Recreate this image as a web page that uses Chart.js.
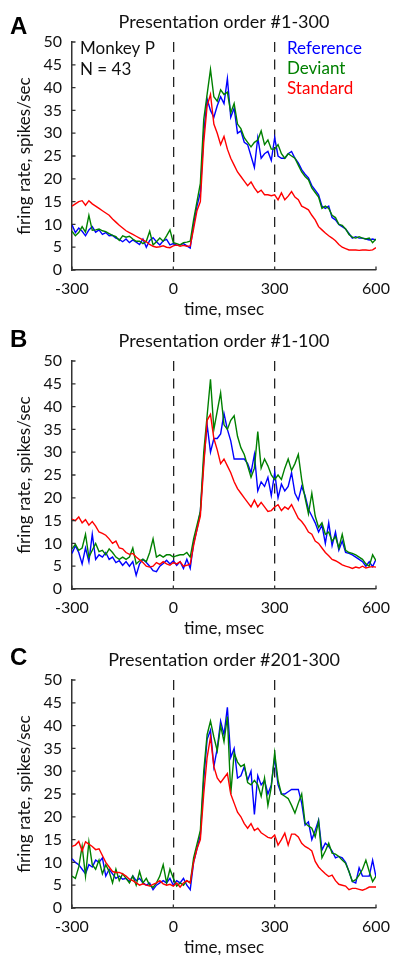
<!DOCTYPE html>
<html>
<head>
<meta charset="utf-8">
<script src="https://cdn.jsdelivr.net/npm/chart.js@4.4.0/dist/chart.umd.min.js"></script>
<style>
  html, body { margin: 0; padding: 0; background: #fff; overflow: hidden; }
  .panel { position: absolute; left: 0; width: 393px; height: 319px; }
</style>
</head>
<body>
<div class="panel" style="top:0px"><canvas id="chartA"></canvas></div>
<div class="panel" style="top:319px"><canvas id="chartB"></canvas></div>
<div class="panel" style="top:638px"><canvas id="chartC"></canvas></div>
<script>
// time bins (msec)
const timeMs = [
  -300, -290, -280, -270, -260, -250, -240, -230, -220, -210,
  -200, -190, -180, -170, -160, -150, -140, -130, -120, -110,
  -100, -90, -80, -70, -60, -50, -40, -30, -20, -10,
  0, 10, 20, 30, 40, 50, 60, 70, 80, 90,
  100, 110, 120, 130, 140, 150, 160, 170, 180, 190,
  200, 210, 220, 230, 240, 250, 260, 270, 280, 290,
  300, 310, 320, 330, 340, 350, 360, 370, 380, 390,
  400, 410, 420, 430, 440, 450, 460, 470, 480, 490,
  500, 510, 520, 530, 540, 550, 560, 570, 580, 590,
  600
];
const xTicks = [-300, 0, 300, 600];
const yTicks = [0, 5, 10, 15, 20, 25, 30, 35, 40, 45, 50];
const seriesNames = ['Reference', 'Deviant', 'Standard'];

// Panel A: presentation order #1-300
const refA = [
  9.9, 8.2, 9.2, 8.5, 7.5, 8.8, 9.5, 8.3, 8.8, 7.8,
  8.2, 7.5, 7.6, 7.0, 6.7, 6.2, 6.8, 6.0, 6.6, 6.1,
  5.6, 6.8, 5.0, 6.5, 7.1, 6.2, 5.5, 6.4, 6.7, 5.5,
  5.8, 5.4, 5.5, 5.8, 5.3, 4.8, 10, 14, 17, 30,
  37.5, 35, 33.5, 36, 38, 36.5, 42, 33.5, 35.5, 30,
  30.5, 28, 27.5, 25, 22.5, 29, 24.5, 25.5, 26, 24,
  29, 25, 24.5, 24.5, 25.5, 26, 24.5, 23.5, 22, 21,
  20.2, 18.5, 17.5, 16.5, 14, 13.5, 14, 11.5, 11, 10,
  9.5, 9, 8, 7, 7.3, 7.0, 7.0, 6.8, 6.6, 6.8,
  6.6
];
const devA = [
  8.5, 7.5, 8.2, 9.5, 8.3, 12.0, 8.7, 8.8, 9.0, 8.6,
  8.4, 8.0, 7.6, 7.3, 6.5, 7.5, 7.2, 7.4, 6.8, 6.3,
  6.3, 5.8, 6.3, 8.5, 5.5, 6.2, 7.0, 6.3, 7.5, 8.8,
  6.0, 5.8, 5.5, 6.0, 6.1, 6.3, 11, 15, 19, 33,
  38.5, 44, 38, 37, 39.5, 38.5, 39, 34.5, 36.5, 32,
  31, 29, 28, 27, 28, 28.5, 30.5, 27.5, 28.5, 26.5,
  26.5, 27.5, 25.5, 24.5, 25.5, 25, 24.5, 23, 21.5, 20.5,
  19.8, 18, 17, 16, 13.5, 14, 13.5, 12, 11.5, 10,
  9.8, 9, 7.8, 7.2, 7.0, 7.3, 7.0, 6.8, 7.0, 6.0,
  6.8
];
const stdA = [
  14, 14.5, 15, 15.2, 14.2, 15.2, 14.5, 14, 13.5, 13,
  12.5, 12, 11.2, 10.5, 9.8, 9.2, 8.6, 8.2, 7.8, 7.4,
  7.0, 6.6, 6.2, 5.6, 5.2, 5.0, 5.1, 5.3, 5.0, 4.9,
  5.3, 5.5, 5.2, 5.4, 5.2, 5.3, 9, 13, 15, 28,
  36, 38.5, 32, 30, 27.5, 29.3, 26.5, 24.5, 23, 21.5,
  20.5, 19.5, 18.5, 19.3, 18, 17, 17.5, 16.5, 16.5, 16.3,
  16.5, 15.4, 16.9, 15.4, 16.2, 17.2, 16, 15.4, 14, 13.6,
  13.2, 12, 11, 9.5, 8.8, 8.1, 7.5, 7, 6.4, 5.6,
  5.0, 4.7, 4.4, 4.4, 4.4, 4.3, 4.4, 4.4, 4.3, 4.4,
  4.9
];

// Panel B: presentation order #1-100
const refB = [
  7.8, 9.5, 8.0, 5.5, 9.0, 6.0, 12.0, 6.5, 7.5, 7.0,
  8.0, 6.5, 7.0, 5.8, 6.2, 5.2, 6.0, 5.0, 6.0, 3.0,
  5.5, 6.5, 5.8, 5.0, 4.0, 3.8, 5.0, 5.6, 6.3, 5.5,
  6.2, 5.2, 6.0, 4.5, 6.5, 4.5, 10, 13, 17, 28,
  36, 30, 33, 33, 34, 38.5, 35, 32.5, 28.5, 28.5,
  28.5, 28.5, 27.5, 25.5, 29.5, 21.5, 23.5, 22.5, 24.5, 20.5,
  25.5, 20.0, 23, 21.5, 22.5, 25.5, 21, 19.5, 22.5, 20.5,
  17.5, 16, 14.5, 12.5, 14, 10, 14.5, 9.5, 12.5, 8.5,
  10.5, 8, 7.8, 7.5, 7.0, 6.5, 6.0, 5.0, 6.0, 4.9,
  6.5
];
const devB = [
  8.8, 9.8, 8.5, 9.0, 12.0, 7.0, 8.5, 10.0, 8.2, 8.5,
  7.5, 8.8, 8.0, 7.0, 6.5, 7.0, 6.5, 7.0, 9.0, 5.5,
  6.2, 6.5, 6.0, 8.0, 11.0, 7.0, 7.5, 7.0, 7.5, 7.5,
  7.0, 7.3, 7.5, 7.5, 8.0, 7.0, 11, 14, 17, 30,
  38, 46, 35, 39, 43, 36, 35, 37, 38, 33.5,
  31, 29.5, 27, 24.5, 26.5, 34.5, 26.5, 28.5, 27, 25,
  24, 25, 24, 26.5, 28.5, 26, 27.5, 29.5, 24, 20,
  16.5, 21, 16, 13.5, 14.5, 12, 12.5, 10.5, 11.5, 9,
  12, 8.5, 8, 7.8, 7.5, 7.0, 6.5, 5.5, 5.0, 7.5,
  6.2
];
const stdB = [
  15.3, 15.0, 15.8, 14.5, 15.2, 14.0, 14.8, 13.8, 12.5, 12.2,
  11.8, 11.0, 10.0, 10.5, 9.0, 8.8, 8.0, 7.6, 7.8, 7.0,
  6.4, 5.8, 5.0, 4.8, 5.0, 5.8, 5.4, 6.0, 5.5, 5.2,
  5.8, 5.5, 6.0, 5.0, 5.2, 5.5, 9.5, 13, 16, 27,
  37, 38.3, 33, 30.5, 27.5, 28.5, 27, 25.5, 23.5, 22,
  21, 20, 19, 18, 19.5, 18, 19.0, 18, 17, 17.2,
  18.0, 18.5, 17.2, 18.0, 17.5, 18.5, 17, 15.5, 14.8, 13.8,
  12.5, 12, 10.5, 10, 9, 8, 7.3, 6.5, 6.2, 5.8,
  5.3, 5.0, 4.8, 4.5, 4.8, 4.6, 5.0, 4.6, 4.8, 4.9,
  4.8
];

// Panel C: presentation order #201-300
const refC = [
  10.8, 10.0, 9.5, 8.5, 7.5, 9.5, 9.0, 10.5, 10.0, 11.0,
  7.0, 8.5, 7.5, 6.5, 7.0, 6.3, 6.5, 5.8, 7.0, 6.0,
  6.5, 5.5, 5.0, 5.5, 4.0, 5.0, 5.5, 6.0, 5.5, 6.5,
  5.0, 6.0, 5.5, 6.5, 5.0, 4.0, 10, 13, 16, 28,
  37, 39, 31, 35, 41, 38, 44, 33, 35, 28.5,
  29, 31, 28, 30, 20.5, 29, 27, 28, 25, 27,
  33, 27, 25, 25, 25.5, 26, 26, 26, 23, 18.2,
  18.9, 15, 17, 19.3, 12.7, 14.2, 13.5, 12.5, 11, 11.3,
  11, 10, 8, 5.8, 5.5, 8.8, 7, 7, 7, 10.5,
  6.8
];
const devC = [
  7.0, 6.5, 9.0, 13.5, 7.0, 14.5, 9.5, 8.5, 10.5, 7.5,
  9.5, 8.0, 5.5, 8.5, 6.0, 7.5, 6.5, 5.5, 7.0, 5.0,
  8.0, 5.5, 6.5, 5.0, 4.5, 5.5, 7.0, 9.5, 5.5, 8.5,
  6.5, 4.8, 5.5, 5.0, 6.0, 5.5, 11, 14, 17, 30,
  38, 41, 37.5, 34.5, 40, 36.5, 42, 25, 34, 32,
  31, 31.5, 27.5, 27, 28, 27, 24.5, 28.5, 22.5, 26.5,
  34, 28, 25, 24.5, 24, 22.5, 20.8, 23, 25, 18.6,
  18, 17.5, 15.6, 19, 11, 12.5, 14.2, 12, 11.8, 11.3,
  10.5, 9.8, 8, 5.8, 6.2, 7.2, 8.5, 10.5, 8, 5.8,
  7.0
];
const stdC = [
  13.5, 13.8, 14.6, 12.5, 14.5, 14.0, 13.5, 12.8, 13.0, 11.5,
  10.0, 9.0, 8.0, 7.8, 7.8, 7.5, 7.0, 6.3, 6.0, 5.5,
  5.0, 5.3, 5.0, 4.8, 5.2, 5.5, 6.0, 5.3, 5.0, 5.2,
  4.8, 5.5, 4.6, 5.5, 6.0, 5.5, 10, 13, 15, 25,
  33, 37.5, 31, 28.5, 27.5, 28.5, 29.5, 25, 23, 21,
  20, 18.5, 17.5, 18.5, 17.0, 17.5, 16.5, 16, 15.5, 15.3,
  16, 13.8, 15, 16.4, 13.8, 16.2, 16.2, 15.6, 14.2, 13.5,
  13.1, 12.5, 10.2, 9, 8.2, 7.5, 6.9, 7.2, 6.0, 5.2,
  5.0, 4.8, 4.0, 4.3, 4.3, 4.1, 3.9, 4.2, 4.6, 4.6,
  4.6
];

const FONT = 'Lato, "Open Sans", sans-serif';
const colors = ['#0000ff', '#008000', '#ff0000'];

// draws panel letter, title, inward ticks and (panel A) the in-plot labels
const annotate = {
  id: 'annotate',
  afterDraw(chart, args, opts) {
    const { ctx, chartArea: area, scales } = chart;
    ctx.save();
    ctx.strokeStyle = '#333';
    ctx.lineWidth = 1.3;
    ctx.beginPath();
    yTicks.forEach(v => {
      const y = scales.y.getPixelForValue(v);
      ctx.moveTo(area.left, y);
      ctx.lineTo(area.left + 3.5, y);
    });
    xTicks.forEach(v => {
      const x = scales.x.getPixelForValue(v);
      ctx.moveTo(x, area.bottom);
      ctx.lineTo(x, area.bottom - 3.5);
    });
    ctx.stroke();

    ctx.textBaseline = 'middle';
    ctx.fillStyle = '#000';
    ctx.font = 'bold 24px "Liberation Sans", Arial, sans-serif';
    ctx.textAlign = 'left';
    ctx.fillText(opts.letter, 10, opts.letterY);

    ctx.fillStyle = '#111';
    ctx.font = '18px ' + FONT;
    ctx.textAlign = 'center';
    ctx.fillText(opts.title, (area.left + area.right) / 2, 22);

    if (opts.labels) {
      ctx.font = '17px ' + FONT;
      ctx.textAlign = 'left';
      ctx.fillText('Monkey P', 80, 49);
      ctx.fillText('N = 43', 80, 70);
      seriesNames.forEach((name, i) => {
        ctx.fillStyle = colors[i];
        ctx.fillText(name, 287, 49 + i * 20);
      });
    }
    ctx.restore();
  }
};

function makePanel(id, series, opts) {
  const datasets = series.map((vals, i) => ({
    label: seriesNames[i],
    data: timeMs.map((t, k) => ({ x: t, y: vals[k] })),
    borderColor: colors[i],
    borderWidth: 1.4,
    pointRadius: 0,
    tension: 0,
    fill: false,
    order: 2 - i,
  }));
  new Chart(document.getElementById(id), {
    type: 'line',
    data: { datasets },
    plugins: [annotate],
    options: {
      responsive: true,
      maintainAspectRatio: false,
      animation: false,
      layout: { padding: { top: 42, right: 17, bottom: 0, left: 0 } },
      plugins: {
        legend: { display: false },
        tooltip: { enabled: false },
        annotate: opts,
      },
      scales: {
        x: {
          type: 'linear',
          min: -300,
          max: 600,
          afterBuildTicks: s => { s.ticks = xTicks.map(v => ({ value: v })); },
          afterFit: s => { s.height = 49; },
          grid: {
            drawTicks: true,
            tickLength: 11,
            tickColor: 'rgba(0,0,0,0)',
            lineWidth: 1.3,
            color: c => (c.tick && (c.tick.value === 0 || c.tick.value === 300)) ? '#222' : 'rgba(0,0,0,0)',
          },
          border: { display: true, color: '#333', width: 1.5, dash: [10, 7.5] },
          ticks: {
            padding: 0,
            color: '#111',
            maxRotation: 0,
            autoSkip: false,
            font: { family: FONT, size: 16, lineHeight: 1 },
          },
          title: {
            display: true,
            text: 'time, msec',
            color: '#111',
            font: { family: FONT, size: 17, lineHeight: 1 },
            padding: { top: 0, bottom: 1 },
          },
        },
        y: {
          min: 0,
          max: 50,
          afterBuildTicks: s => { s.ticks = yTicks.map(v => ({ value: v })); },
          afterFit: s => { s.width = 72; },
          grid: { display: false, drawTicks: false },
          border: { display: true, color: '#333', width: 1.5 },
          ticks: {
            padding: 10,
            color: '#111',
            font: { family: FONT, size: 16, lineHeight: 1 },
          },
          title: {
            display: true,
            text: 'firing rate, spikes/sec',
            color: '#111',
            font: { family: FONT, size: 17, lineHeight: 1 },
            padding: { top: 16, bottom: 0 },
          },
        },
      },
    },
  });
}

makePanel('chartA', [refA, devA, stdA], { letter: 'A', letterY: 27, title: 'Presentation order #1-300', labels: true });
makePanel('chartB', [refB, devB, stdB], { letter: 'B', letterY: 21, title: 'Presentation order #1-100', labels: false });
makePanel('chartC', [refC, devC, stdC], { letter: 'C', letterY: 20, title: 'Presentation order #201-300', labels: false });
</script>
</body>
</html>
